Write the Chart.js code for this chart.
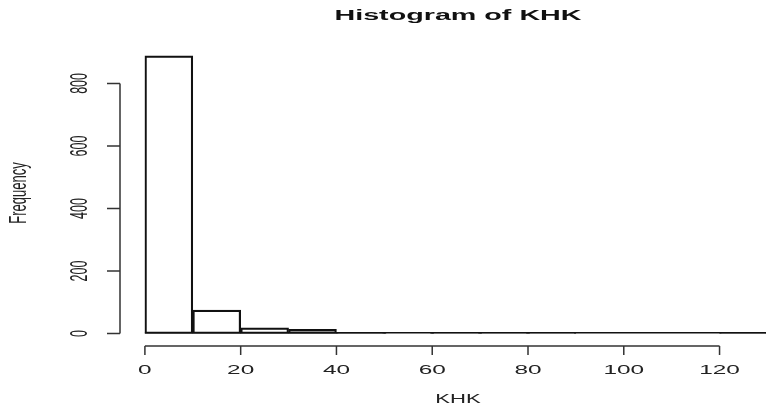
<!DOCTYPE html>
<html>
<head>
<meta charset="utf-8">
<script src="https://cdn.jsdelivr.net/npm/chart.js@4/dist/chart.umd.min.js"></script>
<style>
  html, body { margin: 0; padding: 0; background: #fff; }
  #wrap { width: 766px; height: 411px; }
</style>
</head>
<body>
<div id="wrap"><canvas id="hist"></canvas></div>
<script>
// Histogram of KHK - bins of width 10
const binStarts = [0, 10, 20, 30, 40, 50, 60, 70, 80, 90, 100, 110, 120];
const counts = [888, 75, 18, 13, 4, 1, 2, 2, 2, 0, 0, 0, 3];
const xTicks = [0, 20, 40, 60, 80, 100, 120];
const yTicks = [0, 200, 400, 600, 800];
const binWidth = 10;

const puntos = binStarts.map((b, i) => ({ x: b + binWidth / 2, y: counts[i] }));

// text squeezed/stretched like the reference picture
function texto(ctx, str, x, y, sx, vertical) {
  ctx.save();
  ctx.translate(x, y);
  if (vertical) {
    ctx.rotate(-Math.PI / 2);
    ctx.scale(1, sx);
  } else {
    ctx.scale(sx, 1);
  }
  ctx.fillText(str, 0, 0);
  ctx.restore();
}

const ejesR = {
  id: "ejesR",
  afterDraw(chart) {
    const ctx = chart.ctx;
    const xs = chart.scales.x;
    const ys = chart.scales.y;
    const axisX = chart.chartArea.left;   // y axis position
    const axisY = chart.chartArea.bottom; // x axis position

    ctx.save();
    ctx.strokeStyle = "#333";
    ctx.fillStyle = "#222";
    ctx.lineWidth = 1.5;

    // baseline under empty bins
    ctx.beginPath();
    ctx.moveTo(xs.getPixelForValue(binStarts[0]), ys.getPixelForValue(0) - 0.75);
    ctx.lineTo(xs.getPixelForValue(binStarts[binStarts.length - 1] + binWidth), ys.getPixelForValue(0) - 0.75);
    ctx.strokeStyle = "#111";
    ctx.stroke();
    ctx.strokeStyle = "#333";

    // y axis
    ctx.beginPath();
    ctx.moveTo(axisX, ys.getPixelForValue(yTicks[0]));
    ctx.lineTo(axisX, ys.getPixelForValue(yTicks[yTicks.length - 1]));
    yTicks.forEach((t) => {
      const py = ys.getPixelForValue(t);
      ctx.moveTo(axisX, py);
      ctx.lineTo(axisX - 13, py);
    });
    ctx.stroke();

    ctx.font = "12.5px 'Liberation Sans', Arial, sans-serif";
    ctx.textAlign = "center";
    ctx.textBaseline = "alphabetic";
    yTicks.forEach((t) => {
      texto(ctx, String(t), 87, ys.getPixelForValue(t), 1.95, true);
    });

    // x axis
    ctx.beginPath();
    ctx.moveTo(xs.getPixelForValue(xTicks[0]), axisY);
    ctx.lineTo(xs.getPixelForValue(xTicks[xTicks.length - 1]), axisY);
    xTicks.forEach((t) => {
      const px = xs.getPixelForValue(t);
      ctx.moveTo(px, axisY);
      ctx.lineTo(px, axisY + 9);
    });
    ctx.stroke();

    xTicks.forEach((t) => {
      texto(ctx, String(t), xs.getPixelForValue(t), 374, 1.95, false);
    });

    // axis titles
    ctx.font = "13px 'Liberation Sans', Arial, sans-serif";
    texto(ctx, "KHK", 458, 403, 1.7, false);
    texto(ctx, "Frequency", 26, 193, 1.9, true);

    // main title
    ctx.font = "bold 14px 'Liberation Sans', Arial, sans-serif";
    ctx.fillStyle = "#111";
    texto(ctx, "Histogram of KHK", 458, 20, 2.05, false);

    ctx.restore();
  },
};

new Chart(document.getElementById("hist"), {
  type: "bar",
  data: {
    datasets: [
      {
        label: "KHK",
        data: puntos,
        backgroundColor: "rgba(255,255,255,0)",
        borderColor: "#111",
        borderWidth: 1.5,
        borderSkipped: false,
        barPercentage: 1,
        categoryPercentage: 1,
      },
    ],
  },
  options: {
    responsive: true,
    maintainAspectRatio: false,
    animation: false,
    layout: { padding: { left: 120, right: 0, top: 45, bottom: 65 } },
    plugins: {
      legend: { display: false },
      tooltip: { enabled: false },
      title: { display: false },
    },
    scales: {
      x: { type: "linear", display: false, offset: false, min: -5.2, max: 129.7 },
      y: { display: false, min: -40, max: 923 },
    },
  },
  plugins: [ejesR],
});
</script>
</body>
</html>
